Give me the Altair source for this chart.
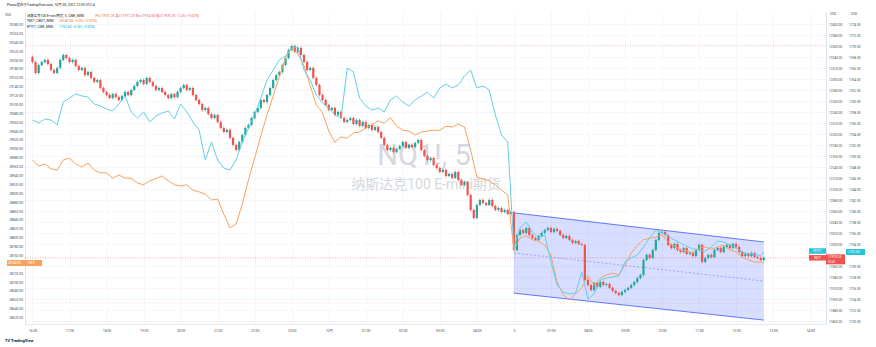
import altair as alt
import pandas as pd

FONT = "Roboto, 'Noto Sans CJK SC', sans-serif"
RED = "#ef5350"
GREEN = "#26a69a"
ORANGE = "#f9a25b"
CYAN = "#63cfe3"
BLUE = "#3d5afe"
AXIS_TXT = "#4a4d57"

# ---------------- data ----------------
nq_first_open = 12340.5
nq_close = [
    12331.25, 12311.25, 12325.75, 12331.25, 12335, 12327.5, 12316.75, 12311.25, 12320.5, 12335, 12344,
    12338.5, 12331.25, 12335, 12324, 12316.75, 12320.5, 12307.5, 12313, 12302.25, 12295, 12298.5, 12284, 12276.75,
    12271.25, 12265.75, 12273, 12267.5, 12262.25, 12269.5, 12276.75, 12271.25, 12280.5,
    12287.75, 12295, 12298.5, 12291.25, 12302.25, 12295, 12287.75, 12280.5, 12284, 12276.75,
    12271.25, 12265.75, 12273, 12267.5, 12276.75, 12284, 12289.5, 12280.5, 12284, 12271.25,
    12262.25, 12255, 12244, 12247.75, 12236.75, 12229.5, 12235, 12222.25,
    12211.25, 12204, 12207.75, 12193.25, 12180.5, 12171.25, 12185.75,
    12198.5, 12211.25, 12216.75, 12229.5, 12240.5, 12247.75, 12262.25, 12258.5,
    12271.25, 12284, 12298.5, 12307.5, 12313,
    12325.75, 12338.5, 12353, 12360.25, 12349.5, 12356.75, 12344,
    12331.25, 12316.75, 12320.5, 12302.25, 12289.5, 12271.25, 12262.25,
    12253, 12244, 12247.75, 12235, 12240.5, 12229.5, 12222.25,
    12225.75, 12229.5, 12218.5, 12225.75, 12215, 12222.25, 12211.25, 12216.75, 12207.75, 12213, 12204,
    12193.25, 12180.5, 12171.25, 12175, 12167.75, 12173.25, 12178.5, 12185.75, 12175, 12180.5, 12176.75, 12184, 12189.5,
    12171.25, 12160.5, 12153, 12156.75, 12144, 12138.5, 12131.25, 12135, 12124, 12127.75,
    12120.5, 12131.25, 12116.75, 12107.75, 12113, 12089.5, 12062.25, 12047.75, 12071.25, 12080.5,
    12075, 12071.25, 12080.5, 12069.5, 12062.25, 12065.75, 12058.5, 12062.25, 12055, 12058.5,
    11989.5, 12016.75, 12025.75, 12020.5, 12029.5, 12016.75, 12011.25, 12007.75, 12015, 12020.5,
    12025.75, 12029.5, 12022.25, 12027.75, 12024, 12016.75, 12011.25, 12015, 12007.75, 12002.25,
    12005.75, 12000.5, 11998.5, 11935, 11925.75, 11916.75, 11929.5, 11922.25, 11931.25, 11925.75,
    11927.5, 11920.5, 11915, 11911.25, 11907.75, 11913.25, 11916.75, 11920.5, 11925.75, 11931.25,
    11938.5, 11944, 11971.25, 11980.5, 11975, 11989.5, 12007.75, 12020.5, 12022.25, 12016.75,
    11998.5, 11993, 12000.5, 11989.5, 11985.75, 11993, 11982.25, 11984, 11978.5, 11989.5,
    11998.5, 11967.75, 11975, 11980.5, 11976.75, 11989.5, 11993, 11985.75, 11995, 11998.5,
    11993, 12000.5, 11995, 11985.75, 11978.5, 11982.25, 11978.5, 11984, 11976.75, 11975,
    11971.25, 11975.25,
]

line_idx = list(range(0, 238, 2)) + [237]

ym_close = [
    28975, 28961, 28966, 28955, 28952, 28975, 28979, 28966, 28959, 28968,
    28952, 28946, 28946, 28934, 28941, 28934, 28934, 28923, 28919, 28928,
    28933, 28939, 28928, 28919, 28916, 28919, 28907, 28903, 28898, 28885,
    28887, 28853, 28822, 28831, 28876, 28930, 28979, 29029, 29076, 29119,
    29162, 29205, 29227, 29214, 29187, 29142, 29099, 29081, 29040, 29015,
    29027, 29024, 29036, 29038, 29047, 29054, 29063, 29058, 29070, 29051,
    29042, 29040, 29031, 29038, 29040, 29042, 29042, 29051, 29049, 29056,
    29049, 28997, 28937, 28932, 28928, 28919, 28907, 28896, 28772, 28799,
    28804, 28795, 28792, 28783, 28761, 28700, 28671, 28660, 28673, 28687,
    28714, 28693, 28709, 28716, 28720, 28716, 28738, 28765, 28783, 28795,
    28799, 28801, 28806, 28790, 28781, 28772, 28770, 28765, 28777, 28779,
    28774, 28779, 28783, 28772, 28768, 28756, 28750, 28745, 28745, 28743,
]

rty_close = [
    1756.60, 1756.06, 1756.78, 1756.60, 1755.69, 1759.87, 1760.60, 1761.33, 1760.97, 1760.78,
    1759.51, 1759.15, 1758.60, 1758.24, 1759.51, 1760.97, 1758.06, 1756.97, 1758.06, 1756.24,
    1757.33, 1757.87, 1758.24, 1756.78, 1759.51, 1758.06, 1756.24, 1754.78, 1749.33, 1752.60,
    1749.33, 1747.87, 1747.51, 1749.33, 1752.60, 1755.15, 1757.51, 1760.60, 1763.87, 1765.69,
    1767.51, 1768.24, 1769.69, 1769.87, 1765.69, 1763.87, 1761.15, 1759.69, 1758.78, 1757.51,
    1756.97, 1766.06, 1765.33, 1760.60, 1759.15, 1758.42, 1758.78, 1758.06, 1760.24, 1760.97,
    1759.87, 1759.15, 1760.24, 1760.97, 1761.69, 1760.60, 1762.42, 1763.15, 1762.42, 1762.97,
    1764.60, 1765.69, 1762.42, 1762.78, 1762.06, 1757.51, 1753.87, 1752.60, 1733.33, 1736.97,
    1738.06, 1736.24, 1735.15, 1735.69, 1730.78, 1726.60, 1725.33, 1724.97, 1725.15, 1728.97,
    1724.06, 1724.97, 1727.51, 1727.87, 1728.06, 1728.24, 1730.78, 1731.51, 1732.06, 1733.51,
    1735.15, 1736.60, 1736.06, 1735.51, 1734.78, 1734.24, 1733.69, 1733.15, 1732.97, 1732.78,
    1733.51, 1734.60, 1734.42, 1733.87, 1733.33, 1732.60, 1732.24, 1732.24, 1731.87, 1732.60,
]

chan_idx = [156, 237]
chan_upper = [12057.0, 12004.0]
chan_lower = [11911.0, 11862.0]
chan_mid = [11984.0, 11933.0]

nq_last = 11975.25
ym_last = 28743.0
rty_last = 1732.60
nq_hi_line = 12362.0
nq_lo_line = 11893.0

time_idx = list(range(0, 253, 12))
time_lbl = ["16:00", "17:00", "18:00", "19:00", "20:00", "21:00", "22:00", "23:00", "10月",
            "01:00", "02:00", "03:00", "04:00", "3", "07:00", "08:00", "09:00", "10:00",
            "11:00", "12:00", "13:00", "14:00"]
# tick labels (those hidden under the last-value boxes are left out, as on the price scales)
nq_ticks = [v for v in range(11860, 12401, 20) if v != 11980]
ym_ticks = [v for v in range(28620, 29281, 20) if v != 28740]
rty_ticks = [v for v in range(1720, 1775, 2) if v != 1732]

# ---------------- tables ----------------
opens = [nq_first_open] + nq_close[:-1]
cdf = pd.DataFrame({"i": list(range(len(nq_close))), "o": opens, "c": nq_close})
cdf["h"] = cdf[["o", "c"]].max(axis=1) + 2.5
cdf["l"] = cdf[["o", "c"]].min(axis=1) - 2.5
cdf["dir"] = ["up" if c >= o else "down" for o, c in zip(cdf.o, cdf.c)]

ym_df = pd.DataFrame({"i": line_idx, "v": ym_close})
rty_df = pd.DataFrame({"i": line_idx, "v": rty_close})
chan_df = pd.DataFrame({"i": chan_idx, "up": chan_upper, "lo": chan_lower, "mid": chan_mid})

# ---------------- scales / axes ----------------
x_scale = alt.Scale(domain=[-0.8, 255.52], nice=False, zero=False)
label_map = "{" + ",".join(f"'{i}':'{t}'" for i, t in zip(time_idx, time_lbl)) + "}"
x_axis = alt.Axis(values=time_idx, labelExpr=f"{label_map}[datum.value]", grid=True,
                  gridColor="#eef0f4", gridWidth=0.6, ticks=False, domain=True,
                  domainColor="#e0e3eb", domainWidth=0.8, labelFontSize=3.4,
                  labelColor=AXIS_TXT, labelPadding=4, labelFont=FONT, title=None,
                  labelFlush=False, labelOverlap=False)


def X(f):
    return alt.X(f, type="quantitative", scale=x_scale, axis=x_axis)


nq_scale = alt.Scale(domain=[11854.9, 12422.2], nice=False, zero=False)
nq_axis = alt.Axis(orient="right", values=nq_ticks, format=".2f", grid=True, gridColor="#f0f2f6",
                   gridWidth=0.6, ticks=False, domain=True, domainColor="#e0e3eb",
                   labelFontSize=3.2, labelColor=AXIS_TXT, labelPadding=2.5, labelFont=FONT,
                   title=None, labelOverlap=False, labelFlush=False)


def YN(f):
    return alt.Y(f, type="quantitative", scale=nq_scale, axis=nq_axis)


ym_scale = alt.Scale(domain=[28605.5, 29308.2], nice=False, zero=False)
ym_axis = alt.Axis(orient="left", values=ym_ticks, format=".2f", grid=False, ticks=False,
                   domain=True, domainColor="#e0e3eb", labelFontSize=3.3, labelColor=AXIS_TXT,
                   labelPadding=2.5, labelFont=FONT, title=None, labelOverlap=False, labelFlush=False)


def YY(f):
    return alt.Y(f, type="quantitative", scale=ym_scale, axis=ym_axis)


rty_scale = alt.Scale(domain=[1719.51, 1776.24], nice=False, zero=False)
rty_axis = alt.Axis(orient="right", offset=20, values=rty_ticks, format=".2f", grid=False,
                    ticks=False, domain=False, labelFontSize=3.2, labelColor=AXIS_TXT,
                    labelPadding=2.5, labelFont=FONT, title=None, labelOverlap=False, labelFlush=False)


def YR(f):
    return alt.Y(f, type="quantitative", scale=rty_scale, axis=rty_axis)


def one(v, t=""):
    return pd.DataFrame({"v": [v], "t": [t]})


def label(txt, x, y, size, color, align="left", weight="normal", baseline="middle", opacity=1.0):
    return alt.Chart(pd.DataFrame({"t": [txt]})).mark_text(
        align=align, baseline=baseline, fontSize=size, color=color, font=FONT,
        fontWeight=weight, opacity=opacity
    ).encode(text="t:N", x=alt.value(x), y=alt.value(y))


color_enc = alt.Color("dir:N", scale=alt.Scale(domain=["up", "down"], range=[GREEN, RED]), legend=None)

# ---------------- NQ group ----------------
watermark1 = label("NQ1!, 5", 399, 144, 29, "#d6d8de", align="center")
watermark2 = label("纳斯达克100 E-mini期货", 401, 173, 14, "#d6d8de", align="center")

chan_fill = alt.Chart(chan_df).mark_area(color=BLUE, opacity=0.2).encode(
    x=X("i"), y=YN("up"), y2=alt.Y2("lo"))
chan_up = alt.Chart(chan_df).mark_line(color=BLUE, strokeWidth=1, opacity=0.8).encode(x=X("i"), y=YN("up"))
chan_lo = alt.Chart(chan_df).mark_line(color=BLUE, strokeWidth=1, opacity=0.8).encode(x=X("i"), y=YN("lo"))
chan_md = alt.Chart(chan_df).mark_line(color=BLUE, strokeWidth=0.7, opacity=0.6, strokeDash=[2, 2]).encode(
    x=X("i"), y=YN("mid"))

hi_line = alt.Chart(one(nq_hi_line)).mark_rule(color="#e57373", strokeWidth=0.7, opacity=0.5,
                                               strokeDash=[1, 1.5]).encode(y=YN("v"))
lo_line = alt.Chart(one(nq_lo_line)).mark_rule(color="#e57373", strokeWidth=0.7, opacity=0.4,
                                               strokeDash=[1, 1.5]).encode(y=YN("v"))
px_line = alt.Chart(one(nq_last)).mark_rule(color=RED, strokeWidth=0.7, opacity=0.7,
                                            strokeDash=[1, 1.5]).encode(y=YN("v"))

wicks = alt.Chart(cdf).mark_rule(strokeWidth=0.7).encode(x=X("i"), y=YN("l"), y2=alt.Y2("h"), color=color_enc)
bodies = alt.Chart(cdf).mark_bar(size=2.2).encode(x=X("i"), y=YN("o"), y2=alt.Y2("c"), color=color_enc)

nq_name_box = alt.Chart(one(nq_last, "NQ1!")).mark_rule(color=RED, strokeWidth=5.5).encode(
    x=alt.value(784), x2=alt.value(801), y=YN("v"))
nq_name_txt = alt.Chart(one(nq_last, "NQ1!")).mark_text(color="white", fontSize=3, font=FONT).encode(
    x=alt.value(792.5), y=YN("v"), text="t:N")
nq_px_box = alt.Chart(one(nq_last)).mark_rule(color=RED, strokeWidth=10, yOffset=1.5).encode(
    x=alt.value(801), x2=alt.value(820), y=YN("v"))
nq_px_txt = alt.Chart(one(nq_last, "11975.25")).mark_text(color="white", fontSize=3.2, font=FONT,
                                                          align="left", dy=-0.5).encode(
    x=alt.value(803), y=YN("v"), text="t:N")
nq_cd_txt = alt.Chart(one(nq_last, "02:41")).mark_text(color="white", fontSize=3, font=FONT,
                                                       align="left", dy=3.8).encode(
    x=alt.value(803), y=YN("v"), text="t:N")

nq_group = alt.layer(watermark1, watermark2, chan_fill, chan_up, chan_lo, chan_md, hi_line, lo_line,
                     px_line, wicks, bodies, nq_name_box, nq_name_txt, nq_px_box, nq_px_txt, nq_cd_txt)

# ---------------- YM (orange, left axis) ----------------
ym_line = alt.Chart(ym_df).mark_line(color=ORANGE, strokeWidth=1).encode(x=X("i"), y=YY("v"))
ym_box = alt.Chart(one(ym_last)).mark_rule(color=ORANGE, strokeWidth=6).encode(
    x=alt.value(-18), x2=alt.value(17), y=YY("v"))
ym_txt1 = alt.Chart(one(ym_last, "28743.00")).mark_text(color="white", fontSize=3.1, font=FONT,
                                                         align="left").encode(
    x=alt.value(-17), y=YY("v"), text="t:N")
ym_txt2 = alt.Chart(one(ym_last, "YM1!")).mark_text(color="white", fontSize=3.1, font=FONT,
                                                     align="left").encode(
    x=alt.value(3), y=YY("v"), text="t:N")
ym_group = alt.layer(ym_line, ym_box, ym_txt1, ym_txt2)

# ---------------- RTY (cyan, second right axis) ----------------
rty_line = alt.Chart(rty_df).mark_line(color=CYAN, strokeWidth=1).encode(x=X("i"), y=YR("v"))
rty_name_box = alt.Chart(one(rty_last)).mark_rule(color="#26c6da", strokeWidth=5.5, yOffset=-1).encode(
    x=alt.value(784), x2=alt.value(801), y=YR("v"))
rty_name_txt = alt.Chart(one(rty_last, "RTY1!")).mark_text(color="white", fontSize=3, font=FONT,
                                                           dy=-1).encode(
    x=alt.value(792.5), y=YR("v"), text="t:N")
rty_px_box = alt.Chart(one(rty_last)).mark_rule(color="#26c6da", strokeWidth=6).encode(
    x=alt.value(821), x2=alt.value(840), y=YR("v"))
rty_px_txt = alt.Chart(one(rty_last, "1732.60")).mark_text(color="white", fontSize=3.2, font=FONT,
                                                           align="left").encode(
    x=alt.value(823), y=YR("v"), text="t:N")
rty_group = alt.layer(rty_line, rty_name_box, rty_name_txt, rty_px_box, rty_px_txt)

# ---------------- annotations ----------------
ann = [
    label("Pluma发布于TradingView.com, 10月 03, 2022 12:05 UTC-4", -18, -7, 3.4, "#131722"),
    label("USD", -20, 3, 3.2, AXIS_TXT),
    label("USD", 805, 2, 3.2, AXIS_TXT),
    label("USD", 826, 2, 3.2, AXIS_TXT),
    label("纳斯达克100 E-mini期货, 5, CME_MINI", 2, 3.5, 3.4, "#131722"),
    label("开=11977.25  高=11977.25  低=11974.50  收=11975.25  −2.25 (−0.02%)", 70, 3.5, 3.4, RED),
    label("YM1!, CBOT_MINI", 2, 9.2, 3.4, "#131722"),
    label("28743.00  −5.00 (−0.02%)", 34, 9.2, 3.4, "#f57c00"),
    label("RTY1!, CME_MINI", 2, 14.9, 3.4, "#131722"),
    label("1732.60  −0.30 (−0.02%)", 34, 14.9, 3.4, "#00acc1"),
    label("TradingView", -14, 329, 4, "#131722", weight="bold"),
    label("TV", -20, 329, 4, "#131722", weight="bold"),
]

chart = alt.layer(nq_group, ym_group, rty_group, *ann).resolve_scale(y="independent").properties(
    width=801, height=312,
    padding={"left": 25, "top": 12, "right": 50, "bottom": 23},
    autosize=alt.AutoSizeParams(type="none"),
    background="white",
).configure_view(stroke=None)

chart.save("out.html", embed_options={"renderer": "svg", "actions": False})
